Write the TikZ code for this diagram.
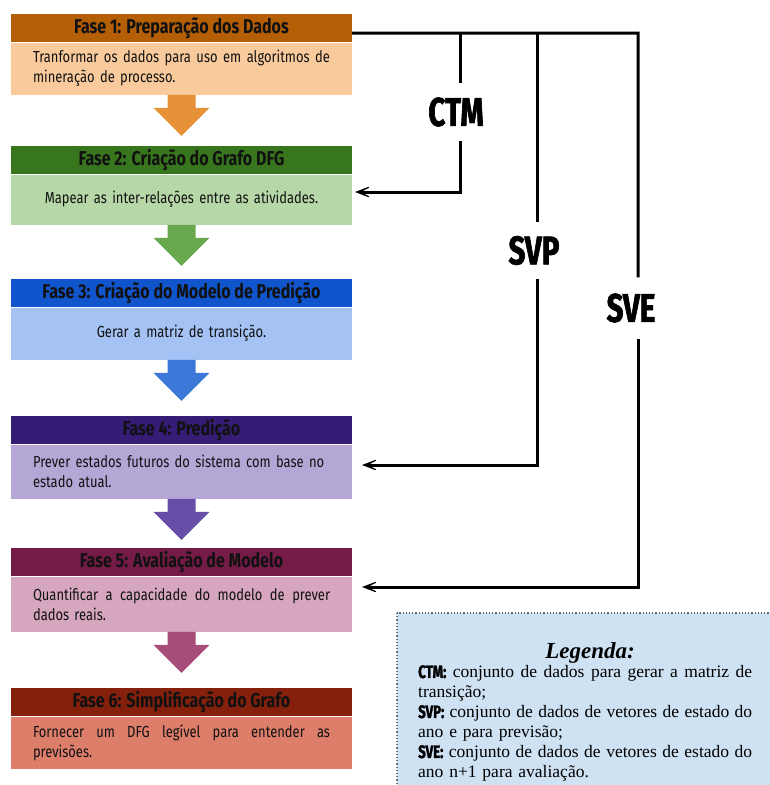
\documentclass[tikz,border=0pt]{standalone}
\usepackage{fontspec}
\usetikzlibrary{arrows.meta,calc}
\newfontfamily\headfont[FakeStretch=0.80]{Fira Sans}
\newfontfamily\bodyfont[FakeStretch=0.81]{Fira Sans}
\newfontfamily\tagfont[FakeStretch=0.74, FakeBold=1.6]{Fira Sans}
\newfontfamily\legfont{Liberation Serif}

\definecolor{hA}{HTML}{B45F06}\definecolor{bA}{HTML}{F9CB9C}\definecolor{aA}{HTML}{E69138}
\definecolor{hB}{HTML}{38761D}\definecolor{bB}{HTML}{B6D7A8}\definecolor{aB}{HTML}{6AA84F}
\definecolor{hC}{HTML}{1155CC}\definecolor{bC}{HTML}{A4C2F4}\definecolor{aC}{HTML}{3C78D8}
\definecolor{hD}{HTML}{351C75}\definecolor{bD}{HTML}{B4A7D6}\definecolor{aD}{HTML}{674EA7}
\definecolor{hE}{HTML}{741B47}\definecolor{bE}{HTML}{D5A6BD}\definecolor{aE}{HTML}{A64D79}
\definecolor{hF}{HTML}{85200C}\definecolor{bF}{HTML}{DD7E6B}
\definecolor{legbg}{HTML}{CFE2F3}
\definecolor{ink}{HTML}{111111}

\tikzset{
  hdr/.style={rectangle, minimum width=341pt, minimum height=28pt, inner sep=0pt,
    anchor=north, text=ink, font=\headfont\bfseries\fontsize{20}{22}\selectfont},
  bodybox/.style={rectangle, minimum width=341pt, minimum height=#1, inner sep=0pt,
    anchor=north, text width=297pt, text=ink, align=left,
    font=\bodyfont\fontsize{16}{20}\selectfont},
  bodybox/.default=52pt,
  tag/.style={inner xsep=2pt, inner ysep=14pt, text=black,
    font=\tagfont\bfseries\fontsize{40}{40}\selectfont},
  conn/.style={draw=black, line width=3pt, line join=miter},
  feed/.style={conn, -{Stealth[length=21pt, width=16pt, inset=15pt, line width=1pt]}},
  darrow/.pic={\path[pic actions] (-14,0) -- (14,0) -- (14,13) -- (28,13) -- (0,41)
      -- (-28,13) -- (-14,13) -- cycle;},
}
% lines spread to a given full width (word spaces made stretchable again)
\newcommand{\spreadline}[2]{\makebox[#1][s]{\spaceskip=0pt\xspaceskip=0pt #2}}
\newcommand{\bodyline}[1]{\spreadline{297pt}{#1}}
\newcommand{\legline}[1]{\spreadline{334pt}{#1}}
\newcommand{\legkey}[1]{{\tagfont\bfseries\fontsize{18}{20}\selectfont #1}}

\begin{document}
\begin{tikzpicture}[x=1pt, y=-1pt]
\useasboundingbox (0,0) rectangle (769,785);

% phase blocks: header strip with description below
\node[hdr, fill=hA] (h1) at (181.5,14) {Fase 1: Preparação dos Dados};
\node[bodybox, fill=bA] (b1) at (h1.south)
  {\bodyline{Tranformar os dados para uso em algoritmos de}\\mineração de processo.};

\node[hdr, fill=hB] (h2) at (181.5,146) {Fase 2: Criação do Grafo DFG};
\node[bodybox=50pt, fill=bB, align=center] (b2) at (h2.south)
  {Mapear as inter-relações entre as atividades.};

\node[hdr, fill=hC] (h3) at (181.5,279) {Fase 3: Criação do Modelo de Predição};
\node[bodybox, fill=bC, align=center] (b3) at (h3.south) {Gerar a matriz de transição.};

\node[hdr, fill=hD] (h4) at (181.5,416) {Fase 4: Predição};
\node[bodybox=54pt, fill=bD] (b4) at (h4.south)
  {\mbox{Prever estados futuros do sistema com base no}\\estado atual.};

\node[hdr, fill=hE] (h5) at (181.5,548) {Fase 5: Avaliação de Modelo};
\node[bodybox=55pt, fill=bE] (b5) at (h5.south)
  {\bodyline{Quantificar a capacidade do modelo de prever}\\dados reais.};

\node[hdr, fill=hF] (h6) at (181.5,688) {Fase 6: Simplificação do Grafo};
\node[bodybox, fill=bF] (b6) at (h6.south)
  {\bodyline{Fornecer um DFG legível para entender as}\\previsões.};

% block arrows between phases
\pic[fill=aA] at (b1.south) {darrow};
\pic[fill=aB] at (b2.south) {darrow};
\pic[fill=aC] at (b3.south) {darrow};
\pic[fill=aD] at (b4.south) {darrow};
\pic[fill=aE] at (b5.south) {darrow};

% data set routing
\coordinate (s0) at ($(h1.east)+(0,5)$);
\coordinate (c1) at (460,33);
\coordinate (c2) at (537,33);
\coordinate (c3) at (638,33);
\coordinate (e2) at (355,192);
\coordinate (e4) at (362,465);
\coordinate (e5) at (362,587);

\node[tag] (ctm) at (456,112) {CTM};
\node[tag] (svp) at (534,250.5) {SVP};
\node[tag, inner ysep=16pt] (sve) at (631,308) {SVE};

\draw[conn] (s0) -- (c3) -- (c3 |- sve.north);
\draw[conn] (c1) -- (c1 |- ctm.north);
\draw[conn] (c2) -- (c2 |- svp.north);
\draw[feed] (c1 |- ctm.south) -- (c1 |- e2) -- (e2);
\draw[feed] (c2 |- svp.south) -- (c2 |- e4) -- (e4);
\draw[feed] (c3 |- sve.south) -- (c3 |- e5) -- (e5);

% legend
\path[fill=legbg, draw=black!60, line width=1.2pt, dotted] (397,613) rectangle (775,792);
\node[anchor=base, inner sep=0pt, font=\legfont\bfseries\itshape\fontsize{23}{23}\selectfont]
  (legtitle) at (590,658) {Legenda:};
\node[anchor=north west, inner sep=0pt, text width=334pt, align=left,
      font=\legfont\fontsize{17.5}{20}\selectfont] (legtext) at (418,665)
  {\legline{\legkey{CTM:} conjunto de dados para gerar a matriz de}\\
   transição;\\
   \legline{\legkey{SVP:} conjunto de dados de vetores de estado do}\\
   ano e para previsão;\\
   \legline{\legkey{SVE:} conjunto de dados de vetores de estado do}\\
   ano n+1 para avaliação.};
\end{tikzpicture}
\end{document}
